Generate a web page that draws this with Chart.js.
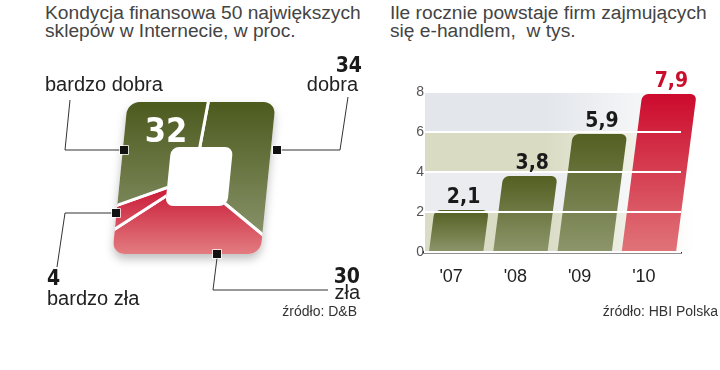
<!DOCTYPE html>
<html>
<head>
<meta charset="utf-8">
<script src="https://cdn.jsdelivr.net/npm/chart.js@4.4.0/dist/chart.umd.min.js"></script>
<style>
  html, body { margin: 0; padding: 0; background: #fff; }
  body { width: 720px; height: 370px; position: relative; overflow: hidden; font-family: 'Liberation Sans', Arial, sans-serif; color: #333; }
  .title { position: absolute; font-size: 19.2px; line-height: 18px; white-space: nowrap; color: #444; }
  .src { position: absolute; font-size: 14px; white-space: nowrap; color: #333; }
  #pieBox { position: absolute; left: 0; top: 50px; width: 370px; height: 270px; }
  #barBox { position: absolute; left: 380px; top: 60px; width: 330px; height: 240px; }
</style>
</head>
<body>
<div class="title" style="left:45px;top:4px">Kondycja finansowa 50 największych<br>sklepów w Internecie, w proc.</div>
<div class="title" style="left:390px;top:4px">Ile rocznie powstaje firm zajmujących<br>się e-handlem,&nbsp; w tys.</div>
<div id="pieBox"><canvas id="pie"></canvas></div>
<div id="barBox"><canvas id="bars"></canvas></div>
<div class="src" style="right:363px;top:303px">źródło: D&amp;B</div>
<div class="src" style="right:2px;top:303px">źródło: HBI Polska</div>
<script>
// left chart: financial condition of the 50 biggest web shops, %
const shareLabels = ['dobra', 'zła', 'bardzo zła', 'bardzo dobra'];
const shareValues = [34, 30, 4, 32];
const shareTone = ['green', 'red', 'red', 'green'];

// right chart: new e-commerce firms per year, thousands
const years = ["'07", "'08", "'09", "'10"];
const firms = [2.1, 3.8, 5.9, 7.9];
const yTicks = [0, 2, 4, 6, 8];

Chart.defaults.font.family = "'Liberation Sans', Arial, sans-serif";

const PIE_SKEW = 0.1;
const BAR_SKEW = 0.13;
const numFont = "'DejaVu Sans Condensed', 'Liberation Sans Narrow', sans-serif";

// where the callouts sit (canvas px of the left chart)
const callouts = [
  { sq: [277, 100], path: [[281, 100], [340, 100], [348, 47]], num: [362, 22, 'right'], txt: [358, 41, 'right'] },
  { sq: [217, 204], path: [[217, 208], [213, 240], [328, 240]], num: [360, 233, 'right'], txt: [360, 249, 'right'] },
  { sq: [116, 163], path: [[112, 163], [65, 163], [57, 217]], num: [47, 235, 'left'], txt: [47, 255, 'left'] },
  { sq: [124, 100], path: [[120, 100], [65, 100], [70, 50]], num: [166, 92, 'center', true], txt: [45, 41, 'left'] }
];

function pieFill(c) {
  const ch = c.chart, a = ch.chartArea;
  const tone = shareTone[c.dataIndex];
  if (!a) return tone === 'red' ? '#d42a40' : '#6b7640';
  const cy = (a.top + a.bottom) / 2;
  let g;
  if (tone === 'red') {
    g = ch.ctx.createLinearGradient(0, cy, 0, cy + 76);
    g.addColorStop(0, '#c60c2c');
    g.addColorStop(1, '#e27c80');
  } else {
    g = ch.ctx.createLinearGradient(0, cy - 76, 0, cy + 76);
    g.addColorStop(0, '#4c5a1e');
    g.addColorStop(1, '#8f9a72');
  }
  return g;
}

const pieFrame = {
  id: 'pieFrame',
  beforeDatasetsDraw(chart) {
    const ctx = chart.ctx;
    const arc = chart.getDatasetMeta(0).data[0];
    const cx = arc.x, cy = arc.y;
    ctx.save();
    ctx.transform(1, 0, -PIE_SKEW, 1, PIE_SKEW * cy, 0);
    ctx.save();
    ctx.shadowColor = 'rgba(0,0,0,0.25)';
    ctx.shadowBlur = 10;
    ctx.shadowOffsetY = 5;
    ctx.fillStyle = '#fff';
    ctx.beginPath();
    ctx.roundRect(cx - 74, cy - 76, 148, 152, 12);
    ctx.fill();
    ctx.restore();
    ctx.beginPath();
    ctx.roundRect(cx - 74, cy - 76, 148, 152, 12);
    ctx.roundRect(cx + 5 - 31, cy - 1.5 - 29.5, 62, 59, 8);
    ctx.clip('evenodd');
  },
  afterDatasetsDraw(chart) {
    const ctx = chart.ctx;
    ctx.restore();
    ctx.save();
    callouts.forEach((co, i) => {
      ctx.strokeStyle = '#333';
      ctx.lineWidth = 1;
      ctx.beginPath();
      co.path.forEach((p, j) => j ? ctx.lineTo(p[0], p[1]) : ctx.moveTo(p[0], p[1]));
      ctx.stroke();
      ctx.fillStyle = '#111';
      ctx.strokeStyle = '#fff';
      ctx.lineWidth = 1.5;
      ctx.strokeRect(co.sq[0] - 4, co.sq[1] - 4, 8, 8);
      ctx.fillRect(co.sq[0] - 4, co.sq[1] - 4, 8, 8);

      ctx.textBaseline = 'alphabetic';
      ctx.fillStyle = '#222';
      ctx.font = "20px 'Liberation Sans', Arial, sans-serif";
      ctx.textAlign = co.txt[2];
      ctx.fillText(shareLabels[i], co.txt[0], co.txt[1]);

      const inside = co.num[3];
      ctx.fillStyle = inside ? '#fff' : '#1a1a1a';
      ctx.font = inside ? 'bold 34px ' + numFont : 'bold 21px ' + numFont;
      ctx.textAlign = co.num[2];
      ctx.fillText(String(shareValues[i]), co.num[0], co.num[1]);
    });
    ctx.restore();
  }
};

new Chart(document.getElementById('pie'), {
  type: 'pie',
  data: {
    labels: shareLabels,
    datasets: [{
      data: shareValues,
      backgroundColor: pieFill,
      borderColor: '#fff',
      borderWidth: 3,
      clip: false
    }]
  },
  options: {
    responsive: true,
    maintainAspectRatio: false,
    animation: false,
    events: [],
    rotation: 5,
    layout: { padding: { left: 79, right: 61, top: 13, bottom: 27 } },
    plugins: { legend: { display: false }, tooltip: { enabled: false } }
  },
  plugins: [pieFrame]
});

function barFill(c) {
  const ch = c.chart;
  const red = c.dataIndex === firms.length - 1;
  if (!ch.chartArea || c.raw === undefined) return red ? '#d42a40' : '#6b7640';
  const y = ch.scales.y;
  const top = y.getPixelForValue(c.raw), base = y.getPixelForValue(0);
  const g = ch.ctx.createLinearGradient(0, top, 0, base);
  g.addColorStop(0, red ? '#cc0a2d' : '#545f22');
  g.addColorStop(1, red ? '#e07478' : '#8c966b');
  return g;
}

const bandColors = ['#dadcc6', '#eaecf0', '#d9dbc3', '#e3e6eb'];

const barDecor = {
  id: 'barDecor',
  beforeDatasetsDraw(chart) {
    const ctx = chart.ctx, a = chart.chartArea, y = chart.scales.y;
    for (let i = 0; i < yTicks.length - 1; i++) {
      const y0 = y.getPixelForValue(yTicks[i + 1]);
      const y1 = y.getPixelForValue(yTicks[i]);
      const g = ctx.createLinearGradient(a.left + 1, 0, a.right + 14, 0);
      g.addColorStop(0, bandColors[i]);
      g.addColorStop(0.45, bandColors[i]);
      g.addColorStop(1, '#ffffff');
      ctx.fillStyle = g;
      ctx.fillRect(a.left + 1, y0, a.right + 12 - a.left, y1 - y0);
    }
    const base = y.getPixelForValue(0);
    ctx.save();
    ctx.transform(1, 0, -BAR_SKEW, 1, BAR_SKEW * base, 0);
  },
  afterDatasetsDraw(chart) {
    chart.ctx.restore();
  },
  afterDraw(chart) {
    const ctx = chart.ctx, y = chart.scales.y;
    const base = y.getPixelForValue(0);
    ctx.save();
    ctx.font = 'bold 21px ' + numFont;
    ctx.textAlign = 'center';
    ctx.textBaseline = 'alphabetic';
    chart.getDatasetMeta(0).data.forEach((bar, i) => {
      const sx = bar.x + BAR_SKEW * (base - bar.y) + 2;
      ctx.fillStyle = i === firms.length - 1 ? '#c8102e' : '#1a1a1a';
      ctx.fillText(firms[i].toFixed(1).replace('.', ','), sx, bar.y - 7);
    });
    ctx.restore();
  }
};

new Chart(document.getElementById('bars'), {
  type: 'bar',
  data: {
    labels: years,
    datasets: [{
      data: firms,
      backgroundColor: barFill,
      borderRadius: { topLeft: 6, topRight: 6, bottomLeft: 0, bottomRight: 0 },
      borderSkipped: 'start',
      barPercentage: 0.846,
      categoryPercentage: 1,
      clip: false
    }]
  },
  options: {
    responsive: true,
    maintainAspectRatio: false,
    animation: false,
    events: [],
    layout: { padding: { left: 0, right: 29, top: 32, bottom: 3 } },
    plugins: { legend: { display: false }, tooltip: { enabled: false } },
    scales: {
      x: {
        grid: { display: false },
        border: { display: true, color: '#222', width: 2.5 },
        ticks: { color: '#222', font: { size: 18 }, padding: 6, labelOffset: -5 },
        afterFit(s) { s.height = 45; }
      },
      y: {
        min: 0,
        max: 8,
        afterBuildTicks(s) { s.ticks = yTicks.map(v => ({ value: v })); },
        ticks: { color: '#555', font: { size: 14 }, padding: 0 },
        grid: { color: '#fff', lineWidth: 2, drawTicks: false, z: 1 },
        border: { display: false },
        afterFit(s) { s.width = 44; }
      }
    }
  },
  plugins: [barDecor]
});
</script>
</body>
</html>
